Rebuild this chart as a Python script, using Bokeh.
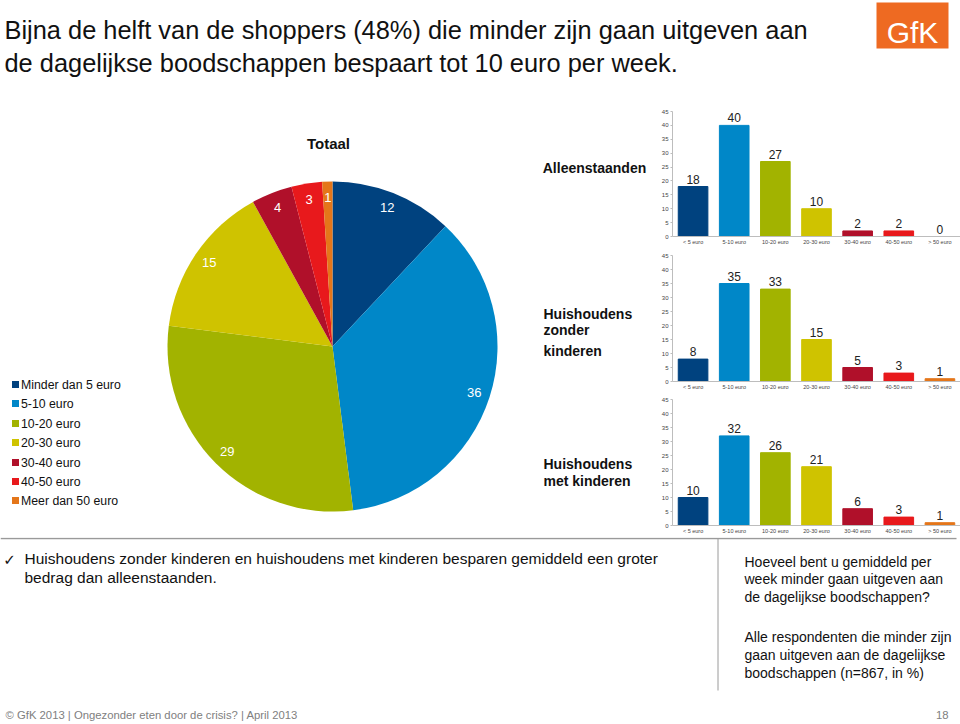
import math
from bokeh.plotting import figure
from bokeh.layouts import column, row
from bokeh.models import Range1d, FactorRange, FixedTicker, ColumnDataSource
from bokeh.core.properties import value
from bokeh.embed import file_html
from bokeh.resources import INLINE

# ---------------- data ----------------
title_lines = ["Bijna de helft van de shoppers (48%) die minder zijn gaan uitgeven aan",
               "de dagelijkse boodschappen bespaart tot 10 euro per week."]
legend_labels = ["Minder dan 5 euro", "5-10 euro", "10-20 euro", "20-30 euro",
                 "30-40 euro", "40-50 euro", "Meer dan 50 euro"]
bar_categories = ["< 5 euro", "5-10 euro", "10-20 euro", "20-30 euro",
                  "30-40 euro", "40-50 euro", "> 50 euro"]
totaal = [12, 36, 29, 15, 4, 3, 1]
alleenstaanden = [18, 40, 27, 10, 2, 2, 0]
zonder_kinderen = [8, 35, 33, 15, 5, 3, 1]
met_kinderen = [10, 32, 26, 21, 6, 3, 1]
y_ticks = [0, 5, 10, 15, 20, 25, 30, 35, 40, 45]
colors = ["#00427f", "#0087c8", "#a2b300", "#cfc300", "#b0102a", "#e8191c", "#e4761a"]

bullet_lines = ["Huishoudens zonder kinderen en huishoudens met kinderen besparen gemiddeld een groter",
                "bedrag dan alleenstaanden."]
question_lines = ["Hoeveel bent u gemiddeld per", "week minder gaan uitgeven aan",
                  "de dagelijkse boodschappen?"]
base_lines = ["Alle respondenten die minder zijn", "gaan uitgeven aan de dagelijkse",
              "boodschappen (n=867, in %)"]
footer_text = "\u00a9 GfK 2013 | Ongezonder eten door de crisis? | April 2013"
page_number = "18"

FONT = "Liberation Sans"


def canvas(w, h, x0, y0):
    p = figure(width=w, height=h, x_range=Range1d(x0, x0 + w), y_range=Range1d(-(y0 + h), -y0),
               x_axis_location=None, y_axis_location=None, toolbar_location=None,
               output_backend="svg", min_border=0)
    p.min_border_left = p.min_border_right = p.min_border_top = p.min_border_bottom = 0
    p.outline_line_color = None
    p.grid.visible = False
    p.background_fill_color = "white"
    p.border_fill_color = "white"
    return p


def txt(p, x, y, s, size, color="#111111", align="left", baseline="middle", style="normal"):
    p.text(x=[x], y=[-y], text=[s], text_font=value(FONT), text_font_size=size,
           text_color=color, text_align=align, text_baseline=baseline, text_font_style=style)


# ---------------- top ----------------
top = canvas(960, 100, 0, 0)
txt(top, 4, 29, title_lines[0], "25.4px")
txt(top, 4, 62, title_lines[1], "25.4px")
top.quad(left=[876], right=[948], top=[-2], bottom=[-48], fill_color="#ee6a22", line_color=None)
txt(top, 912, 32, "GfK", "30px", color="white", align="center")

# ---------------- left (pie, legend, panel titles) ----------------
left = canvas(650, 437, 0, 100)
cx, cy, R = 332, 346, 165
total = sum(totaal)
cum = 0
starts, ends, lx, ly = [], [], [], []
for v in totaal:
    a0 = math.pi / 2 - 2 * math.pi * cum / total
    cum += v
    a1 = math.pi / 2 - 2 * math.pi * cum / total
    starts.append(a1)
    ends.append(a0)
    mid = (a0 + a1) / 2
    lx.append(cx + 149 * math.cos(mid))
    ly.append(-cy + 149 * math.sin(mid))
left.wedge(x=cx, y=-cy, radius=R, start_angle=starts, end_angle=ends,
           fill_color=colors, line_color=None)
left.text(x=lx, y=ly, text=[str(v) for v in totaal], text_font=value(FONT),
          text_font_size="13px", text_color="white", text_align="center", text_baseline="middle")

leg_y = [384, 403, 423, 442, 462, 481, 500]
left.scatter(x=[15] * 7, y=[-v for v in leg_y], marker="square", size=7,
             fill_color=colors, line_color=None)
left.text(x=[20.5] * 7, y=[-v for v in leg_y], text=legend_labels, text_font=value(FONT),
          text_font_size="12.3px", text_color="#111111", text_align="left", text_baseline="middle")

txt(left, 328, 143, "Totaal", "15px", align="center", style="bold")
txt(left, 594, 167, "Alleenstaanden", "14px", align="center", style="bold")
txt(left, 543, 313, "Huishoudens", "14px", style="bold")
txt(left, 543, 329, "zonder", "14px", style="bold")
txt(left, 543, 350, "kinderen", "14px", style="bold")
txt(left, 543, 463, "Huishoudens", "14px", style="bold")
txt(left, 543, 480, "met kinderen", "14px", style="bold")


# ---------------- bar charts ----------------
def bar_chart(vals, h, top_b, bottom_b):
    p = figure(width=310, height=h, x_range=FactorRange(*bar_categories), y_range=Range1d(0, 45),
               toolbar_location=None, output_backend="svg", min_border_left=22,
               min_border_right=0, min_border_top=top_b, min_border_bottom=bottom_b)
    src = ColumnDataSource(dict(cat=bar_categories, val=vals, col=colors,
                                lab=[str(v) for v in vals]))
    p.vbar(x="cat", top="val", width=0.72, fill_color="col", line_color="col", source=src)
    p.text(x="cat", y="val", text="lab", source=src, y_offset=-3, text_font=value(FONT),
           text_font_size="12px", text_color="#222222", text_align="center",
           text_baseline="bottom")
    p.outline_line_color = None
    p.grid.visible = False
    p.yaxis.ticker = FixedTicker(ticks=y_ticks)
    for ax in (p.xaxis, p.yaxis):
        ax.axis_line_color = "#bdbdbd"
        ax.major_label_text_font = FONT
        ax.major_label_text_color = "#444444"
        ax.minor_tick_line_color = None
        ax.minor_tick_out = 0
        ax.minor_tick_in = 0
        ax.major_label_standoff = 2
    p.yaxis.major_label_text_font_size = "6px"
    p.yaxis.major_tick_line_color = "#bdbdbd"
    p.yaxis.major_tick_out = 2
    p.yaxis.major_tick_in = 0
    p.xaxis.major_label_text_font_size = "5.5px"
    p.xaxis.major_tick_line_color = None
    p.xaxis.major_tick_out = 0
    p.xaxis.major_tick_in = 0
    p.x_range.range_padding = 0
    return p


b1 = bar_chart(alleenstaanden, 147, 11, 10)
b2 = bar_chart(zonder_kinderen, 145, 8, 11)
b3 = bar_chart(met_kinderen, 145, 7, 12)

# ---------------- bottom ----------------
bottom = canvas(960, 187, 0, 537)
bottom.line(x=[0, 956], y=[-538, -538], line_color="#9a9a9a", line_width=1.5)
bottom.line(x=[717.5, 717.5], y=[-538, -690], line_color="#9a9a9a", line_width=1)
bottom.text(x=[9], y=[-559], text=["\u2713"], text_font=value("DejaVu Sans"),
            text_font_size="15px", text_color="#111111", text_align="center",
            text_baseline="middle")
txt(bottom, 24, 558, bullet_lines[0], "15.5px")
txt(bottom, 24, 577, bullet_lines[1], "15.5px")
for i, s in enumerate(question_lines):
    txt(bottom, 744, 561 + 17.5 * i, s, "14px")
for i, s in enumerate(base_lines):
    txt(bottom, 744, 636 + 18 * i, s, "14px")
txt(bottom, 5, 714, footer_text, "11.3px", color="#808080")
txt(bottom, 948, 714, page_number, "11.3px", color="#808080", align="right")

layout = column(top, row(left, column(b1, b2, b3, spacing=0), spacing=0), bottom, spacing=0)
open("out.html", "w").write(file_html(layout, INLINE))
